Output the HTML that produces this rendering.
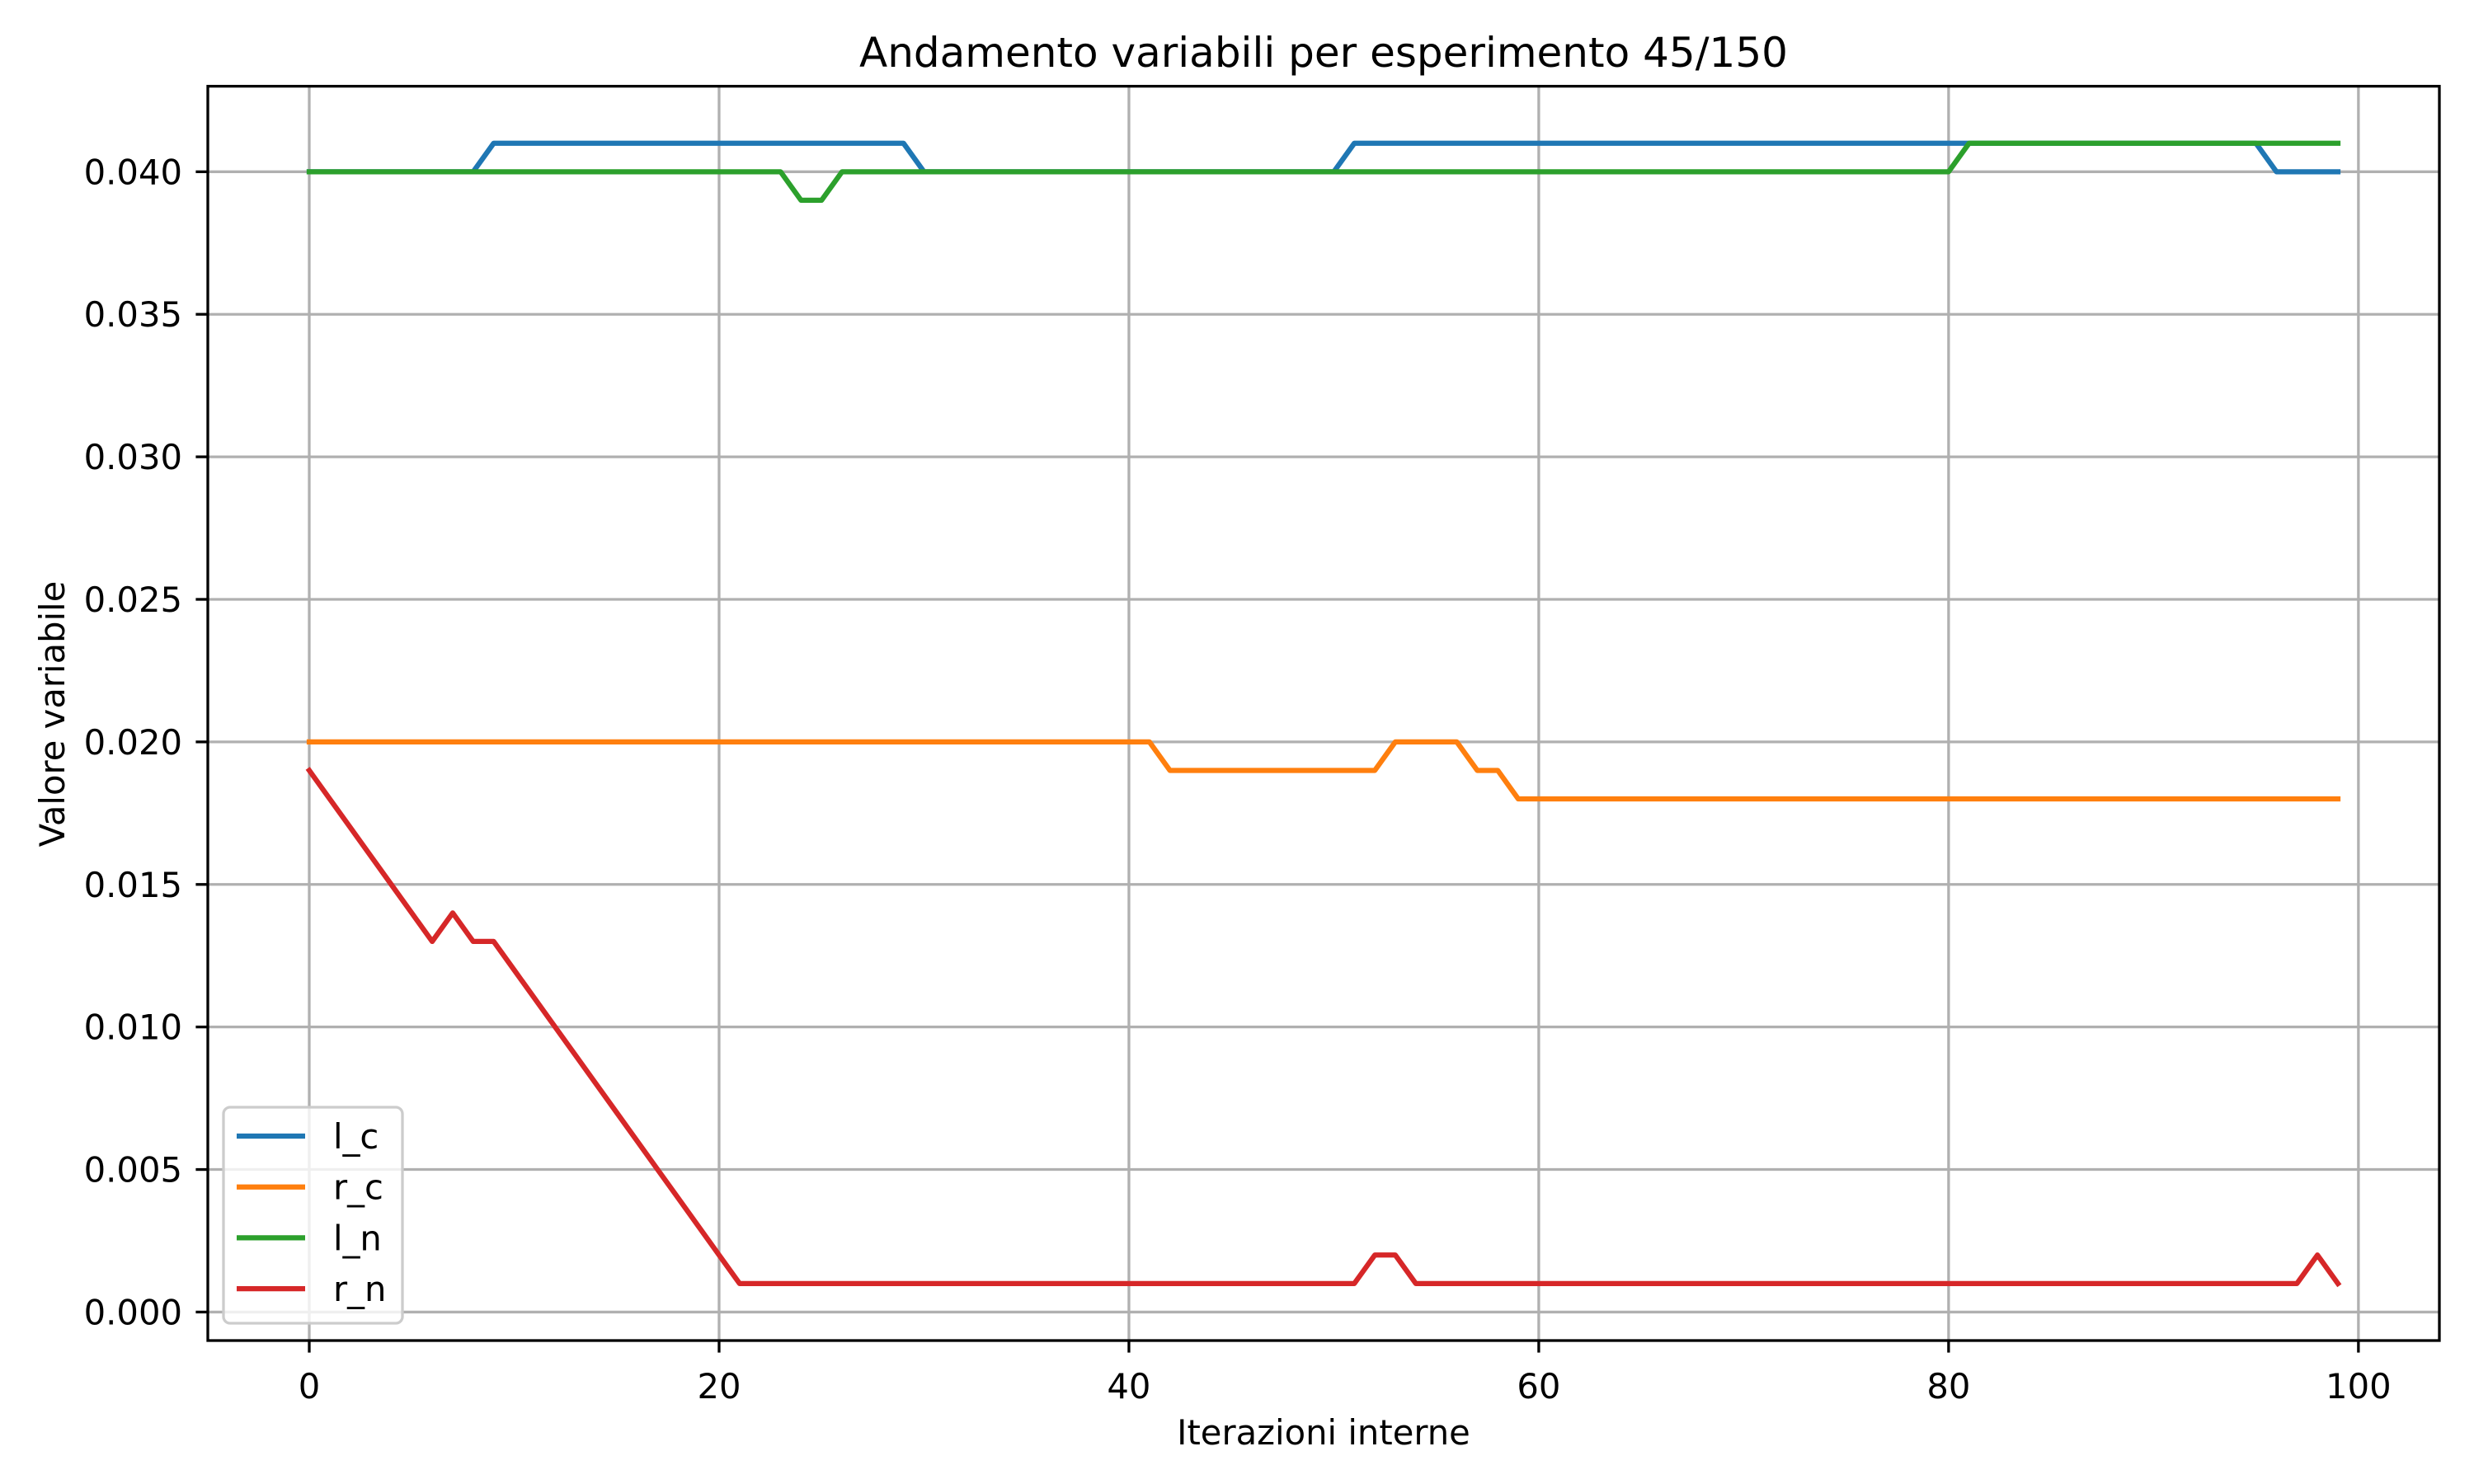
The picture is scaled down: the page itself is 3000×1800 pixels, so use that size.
<!DOCTYPE html>
<html><head><meta charset="utf-8">
<style>
html,body{margin:0;padding:0;background:#fff;}
svg{display:block;font-family:"DejaVu Sans","Liberation Sans",sans-serif;}
</style></head>
<body>
<svg id="chart" width="3000" height="1800" viewBox="0 0 3000 1800" xmlns="http://www.w3.org/2000/svg">
<rect width="3000" height="1800" fill="#fff"/>
<g id="grid"></g>
<g id="series"></g>
<rect x="252" y="104.6" width="2706" height="1521.4" fill="none" stroke="#000" stroke-width="3.3"/>
<g id="ticks"></g>
<text x="1605" y="81" font-size="50" text-anchor="middle">Andamento variabili per esperimento 45/150</text>
<text x="1605" y="1752" font-size="41.7" text-anchor="middle">Iterazioni interne</text>
<text x="0" y="0" font-size="41.7" text-anchor="middle" transform="translate(78,866) rotate(-90)">Valore variabile</text>
<g id="legend"></g>
</svg>
<script>
const xTicks = [0, 20, 40, 60, 80, 100];
const yTicks = [0.000, 0.005, 0.010, 0.015, 0.020, 0.025, 0.030, 0.035, 0.040];
const seriesNames = ["l_c", "r_c", "l_n", "r_n"];
const seriesColors = ["#1f77b4", "#ff7f0e", "#2ca02c", "#d62728"];
const lC = [
0.040,0.040,0.040,0.040,0.040,0.040,0.040,0.040,0.040,0.041,
0.041,0.041,0.041,0.041,0.041,0.041,0.041,0.041,0.041,0.041,
0.041,0.041,0.041,0.041,0.041,0.041,0.041,0.041,0.041,0.041,
0.040,0.040,0.040,0.040,0.040,0.040,0.040,0.040,0.040,0.040,
0.040,0.040,0.040,0.040,0.040,0.040,0.040,0.040,0.040,0.040,
0.040,0.041,0.041,0.041,0.041,0.041,0.041,0.041,0.041,0.041,
0.041,0.041,0.041,0.041,0.041,0.041,0.041,0.041,0.041,0.041,
0.041,0.041,0.041,0.041,0.041,0.041,0.041,0.041,0.041,0.041,
0.041,0.041,0.041,0.041,0.041,0.041,0.041,0.041,0.041,0.041,
0.041,0.041,0.041,0.041,0.041,0.041,0.040,0.040,0.040,0.040];
const rC = [
0.020,0.020,0.020,0.020,0.020,0.020,0.020,0.020,0.020,0.020,
0.020,0.020,0.020,0.020,0.020,0.020,0.020,0.020,0.020,0.020,
0.020,0.020,0.020,0.020,0.020,0.020,0.020,0.020,0.020,0.020,
0.020,0.020,0.020,0.020,0.020,0.020,0.020,0.020,0.020,0.020,
0.020,0.020,0.019,0.019,0.019,0.019,0.019,0.019,0.019,0.019,
0.019,0.019,0.019,0.020,0.020,0.020,0.020,0.019,0.019,0.018,
0.018,0.018,0.018,0.018,0.018,0.018,0.018,0.018,0.018,0.018,
0.018,0.018,0.018,0.018,0.018,0.018,0.018,0.018,0.018,0.018,
0.018,0.018,0.018,0.018,0.018,0.018,0.018,0.018,0.018,0.018,
0.018,0.018,0.018,0.018,0.018,0.018,0.018,0.018,0.018,0.018];
const lN = [
0.040,0.040,0.040,0.040,0.040,0.040,0.040,0.040,0.040,0.040,
0.040,0.040,0.040,0.040,0.040,0.040,0.040,0.040,0.040,0.040,
0.040,0.040,0.040,0.040,0.039,0.039,0.040,0.040,0.040,0.040,
0.040,0.040,0.040,0.040,0.040,0.040,0.040,0.040,0.040,0.040,
0.040,0.040,0.040,0.040,0.040,0.040,0.040,0.040,0.040,0.040,
0.040,0.040,0.040,0.040,0.040,0.040,0.040,0.040,0.040,0.040,
0.040,0.040,0.040,0.040,0.040,0.040,0.040,0.040,0.040,0.040,
0.040,0.040,0.040,0.040,0.040,0.040,0.040,0.040,0.040,0.040,
0.040,0.041,0.041,0.041,0.041,0.041,0.041,0.041,0.041,0.041,
0.041,0.041,0.041,0.041,0.041,0.041,0.041,0.041,0.041,0.041];
const rN = [
0.019,0.018,0.017,0.016,0.015,0.014,0.013,0.014,0.013,0.013,
0.012,0.011,0.010,0.009,0.008,0.007,0.006,0.005,0.004,0.003,
0.002,0.001,0.001,0.001,0.001,0.001,0.001,0.001,0.001,0.001,
0.001,0.001,0.001,0.001,0.001,0.001,0.001,0.001,0.001,0.001,
0.001,0.001,0.001,0.001,0.001,0.001,0.001,0.001,0.001,0.001,
0.001,0.001,0.002,0.002,0.001,0.001,0.001,0.001,0.001,0.001,
0.001,0.001,0.001,0.001,0.001,0.001,0.001,0.001,0.001,0.001,
0.001,0.001,0.001,0.001,0.001,0.001,0.001,0.001,0.001,0.001,
0.001,0.001,0.001,0.001,0.001,0.001,0.001,0.001,0.001,0.001,
0.001,0.001,0.001,0.001,0.001,0.001,0.001,0.001,0.002,0.001];

const NS = "http://www.w3.org/2000/svg";
const X0 = 252, X1 = 2958, Y0 = 104.6, Y1 = 1626;
const xMin = -4.95, xMax = 103.95, yMin = -0.001, yMax = 0.043;
function xs(v){ return X0 + (v - xMin) / (xMax - xMin) * (X1 - X0); }
function ys(v){ return Y1 - (v - yMin) / (yMax - yMin) * (Y1 - Y0); }
function mk(tag, attrs, parent){
  const e = document.createElementNS(NS, tag);
  for (const k in attrs) e.setAttribute(k, attrs[k]);
  parent.appendChild(e);
  return e;
}
const grid = document.getElementById('grid');
const ticks = document.getElementById('ticks');
xTicks.forEach(t => {
  const x = xs(t);
  const g = mk('line', {x1:x, x2:x, y1:Y0, y2:Y1, stroke:'#b0b0b0', 'stroke-width':3.3}, grid);
  
  
  const tk = mk('line', {x1:x, x2:x, y1:Y1, y2:Y1+14.6, stroke:'#000', 'stroke-width':3.3}, ticks);
  
  
  const lb = mk('text', {x:x, y:Y1+70, 'font-size':41.7, 'text-anchor':'middle'}, ticks);
  lb.textContent = String(t);
  
  
});
yTicks.forEach(t => {
  const y = ys(t);
  const g = mk('line', {x1:X0, x2:X1, y1:y, y2:y, stroke:'#b0b0b0', 'stroke-width':3.3}, grid);
  
  
  const tk = mk('line', {x1:X0-14.6, x2:X0, y1:y, y2:y, stroke:'#000', 'stroke-width':3.3}, ticks);
  
  
  const lb = mk('text', {x:221, y:y+15, 'font-size':41.7, 'text-anchor':'end'}, ticks);
  lb.textContent = t.toFixed(3);
  
  
});
const seriesData = [lC, rC, lN, rN];
const sg = document.getElementById('series');
seriesData.forEach((arr, si) => {
  const d = arr.map((v, i) => (i ? 'L' : 'M') + xs(i).toFixed(2) + ' ' + ys(v).toFixed(2)).join(' ');
  const p = mk('path', {d:d, fill:'none', stroke:seriesColors[si], 'stroke-width':6.25, 'stroke-linejoin':'round', 'stroke-linecap':'square'}, sg);
  
  
});
const lg = document.getElementById('legend');
const box = mk('rect', {x:271, y:1343, width:217, height:262, rx:8, fill:'#fff', 'fill-opacity':0.8, stroke:'#cccccc', 'stroke-width':3.3}, lg);


seriesNames.forEach((n, i) => {
  const y = 1378 + i * 61.7;
  const l = mk('line', {x1:287, x2:370, y1:y, y2:y, stroke:seriesColors[i], 'stroke-width':6.25}, lg);
  
  
  const t = mk('text', {x:404, y:y+15, 'font-size':41.7}, lg);
  t.textContent = n;
  
  
});
</script>
</body></html>
